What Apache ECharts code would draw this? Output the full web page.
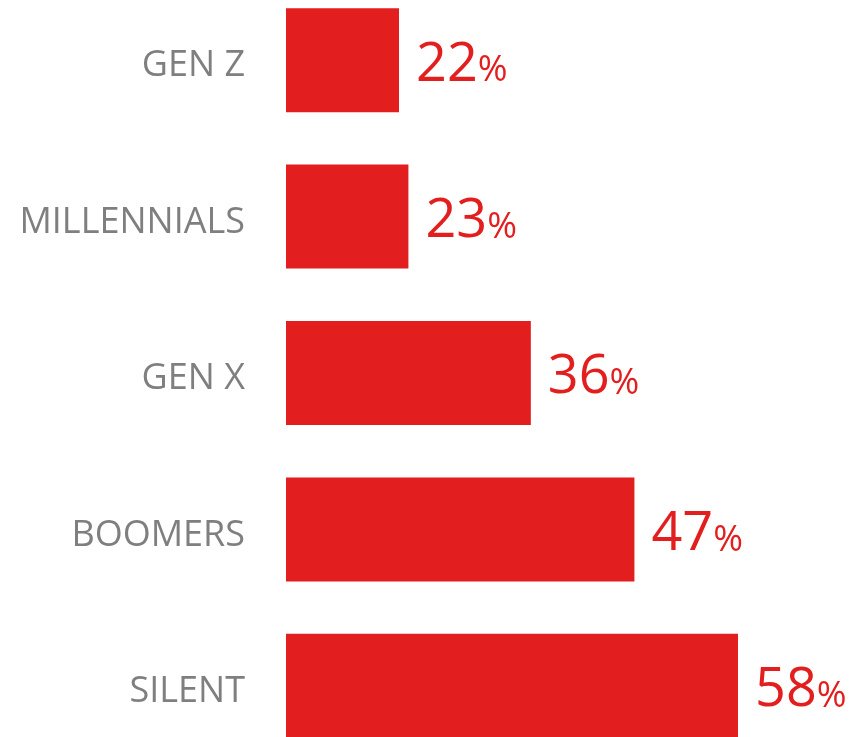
<!DOCTYPE html>
<html>
<head>
<meta charset="utf-8">
<script src="https://cdn.jsdelivr.net/npm/echarts@6/dist/echarts.min.js"></script>
<style>
  html, body { margin: 0; padding: 0; background: #fff; }
  #chart { width: 856px; height: 737px; }
</style>
</head>
<body>
<div id="chart"></div>
<script>
// Share of each generation, top to bottom
const categories = ['GEN Z', 'MILLENNIALS', 'GEN X', 'BOOMERS', 'SILENT'];
const values = [22, 23, 36, 47, 58];

const RED = '#e21e1f';
const GRAY = '#7f7f7f';
const FONT = 'Open Sans';

const chart = echarts.init(document.getElementById('chart'), null, { renderer: 'canvas' });

chart.setOption({
  animation: false,
  grid: {
    left: 286, top: -18, width: 565, height: 782,
    containLabel: false,
    outerBoundsMode: 'none'
  },
  xAxis: {
    type: 'value',
    min: 10,
    max: 70,
    show: false
  },
  yAxis: {
    type: 'category',
    data: categories,
    inverse: true,
    axisLine: { show: false },
    axisTick: { show: false },
    splitLine: { show: false },
    axisLabel: {
      margin: 41,
      formatter: v => '{c|' + v + '}',
      rich: {
        c: {
          color: GRAY,
          fontFamily: FONT,
          fontSize: 36,
          padding: [12, 0, 0, 0]
        }
      }
    }
  },
  series: [{
    type: 'bar',
    data: values,
    barCategoryGap: '33.5%',
    itemStyle: { color: RED },
    label: {
      show: true,
      position: 'right',
      distance: 17,
      offset: [0, 5],
      formatter: p => '{n|' + p.value + '}{p|%}',
      rich: {
        n: { fontFamily: FONT, fontSize: 54, color: RED, verticalAlign: 'bottom' },
        p: { fontFamily: FONT, fontSize: 36, color: RED, verticalAlign: 'bottom', padding: [0, 0, 3, 0] }
      }
    }
  }]
});
</script>
</body>
</html>
